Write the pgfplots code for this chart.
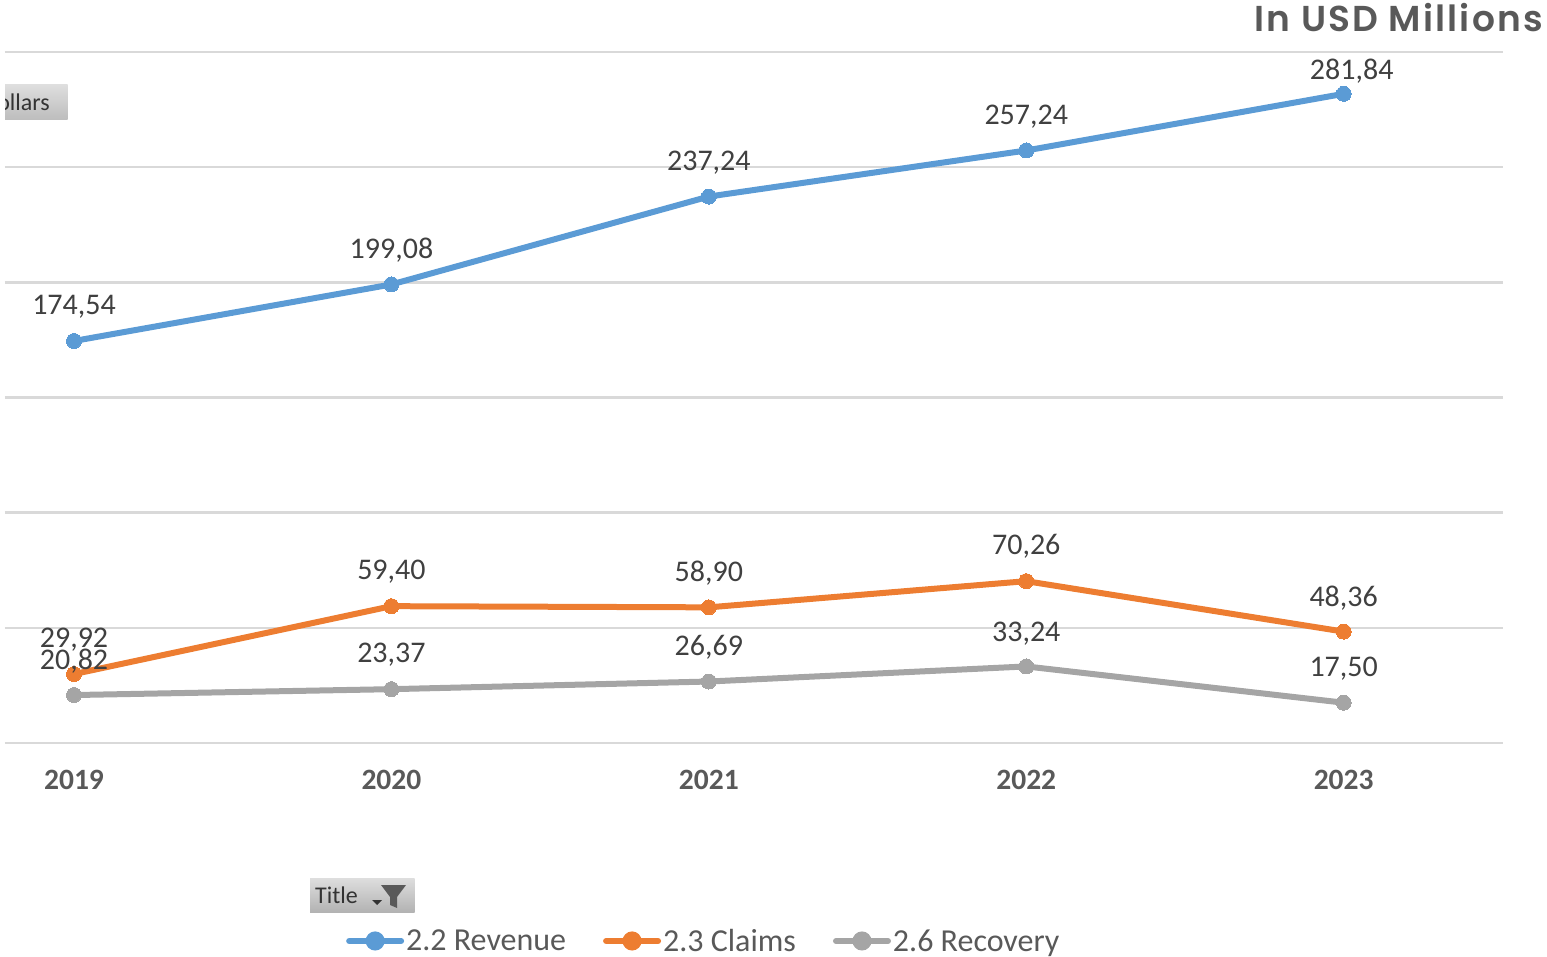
\documentclass[border=0pt]{standalone}
\usepackage{fontspec}
\setmainfont{Carlito}
\newfontfamily\titlefont{Poppins}[BoldFont={Poppins SemiBold}]
\usepackage{pgfplots}
\usepackage{pgfplotstable}
\pgfplotsset{compat=1.18}
\definecolor{cblue}{HTML}{5B9BD5}
\definecolor{corange}{HTML}{ED7D31}
\definecolor{cgray}{HTML}{A5A5A5}
\definecolor{grid}{HTML}{D9D9D9}
\definecolor{txt}{HTML}{404040}
\definecolor{axtxt}{HTML}{595959}
\pgfplotstableread{
x y dx dy
0 174.54 0 34
1 199.08 0 34
2 237.24 0 34
3 257.24 0 34
4 281.84 8 23
}\revenue
\pgfplotstableread{
x y dx dy
0 29.92 0 34
1 59.40 0 34
2 58.90 0 34
3 70.26 0 35
4 48.36 0 33
}\claims
\pgfplotstableread{
x y dx dy
0 20.82 0 34
1 23.37 0 34
2 26.69 0 34
3 33.24 0 33
4 17.50 0 34
}\recovery
\pgfplotsset{
  ser/.style={
    line width=6pt, color=#1, mark=*, mark size=7.5pt,
    mark options={solid, fill=#1, draw=#1, line width=0pt},
    visualization depends on=\thisrow{dx}\as\dxv,
    visualization depends on=\thisrow{dy}\as\dyv,
    nodes near coords={\pgfmathprintnumber[fixed,fixed zerofill,precision=2,use comma,assume math mode=true]{\pgfplotspointmeta}},
    every node near coord/.style={anchor=center, text=txt, inner sep=0pt, xshift=\dxv pt, yshift=\dyv pt,
      font=\fontsize{30pt}{31pt}\selectfont},
    legend image code/.code={
      \draw[line width=6pt, line cap=round, color=#1] (0pt,0pt) -- (52pt,0pt);
      \fill[color=#1] (26pt,0pt) circle (6.5pt);
    }
  }
}
\begin{document}
\begin{tikzpicture}[x=1pt,y=1pt]
\useasboundingbox (0,0) rectangle (1547,956);
% pivot field buttons
\begin{scope}
\clip (5,836) rectangle (67.5,871);
\shade[top color=black!13, bottom color=black!26] (5,836) rectangle (67.5,871);
\node[anchor=east, inner sep=0pt, text=black!80, font=\fontsize{24pt}{26pt}\selectfont] at (50,853.5) {Dollars};
\end{scope}
\shade[top color=black!13, bottom color=black!30] (310,44) rectangle (414.5,78);
\node[anchor=west, inner sep=0pt, text=black!80, font=\fontsize{24pt}{26pt}\selectfont] at (315,60.5) {Title};
\fill[axtxt] (381,71) -- (406,71) -- (397,59) -- (397,48) -- (390,51) -- (390,59) -- cycle;
\fill[black!80] (372,56) -- (382,56) -- (377,51) -- cycle;
\begin{axis}[
  at={(5pt,213pt)}, anchor=south west,
  scale only axis, width=1498pt, height=691pt,
  xmin=-0.2174, xmax=4.502, ymin=0, ymax=300,
  axis y line*=left,
  axis x line*=bottom,
  y axis line style={draw=none},
  x axis line style={-, draw=grid, line width=2.5pt},
  xtick=data,
  xticklabels={2019,2020,2021,2022,2023},
  xticklabel style={anchor=center, text=axtxt, yshift=-37pt, inner sep=0pt,
     font=\bfseries\fontsize{29.5pt}{30pt}\selectfont},
  major tick length=0pt,
  ytick={0,50,100,150,200,250,300},
  yticklabels={},
  ymajorgrids,
  y grid style={draw=grid, line width=2.5pt},
  clip=false,
  legend columns=3,
  legend style={
    at={(axis description cs:0.2276,-0.2865)}, anchor=west, draw=none, fill=none, inner sep=0pt,
    font=\fontsize{32pt}{34pt}\selectfont, text=axtxt,
    /tikz/every even column/.append style={column sep=37pt},
    cells={anchor=west},
    nodes={inner sep=0pt, outer sep=0pt},
  },
  legend cell align=left,
]
\addplot[ser=cblue] table[x=x,y=y] {\revenue};
\addlegendentry{\hspace{2pt}2.2 Revenue}
\addplot[ser=corange] table[x=x,y=y] {\claims};
\addlegendentry{\hspace{2pt}2.3 Claims}
\addplot[ser=cgray] table[x=x,y=y] {\recovery};
\addlegendentry{\hspace{2pt}2.6 Recovery}
\end{axis}
\node[anchor=east, inner sep=0pt, text=axtxt, font=\titlefont\bfseries\fontsize{36pt}{38pt}\selectfont] at (1543,938) {\addfontfeatures{LetterSpace=6}In USD Millions};
\end{tikzpicture}
\end{document}
